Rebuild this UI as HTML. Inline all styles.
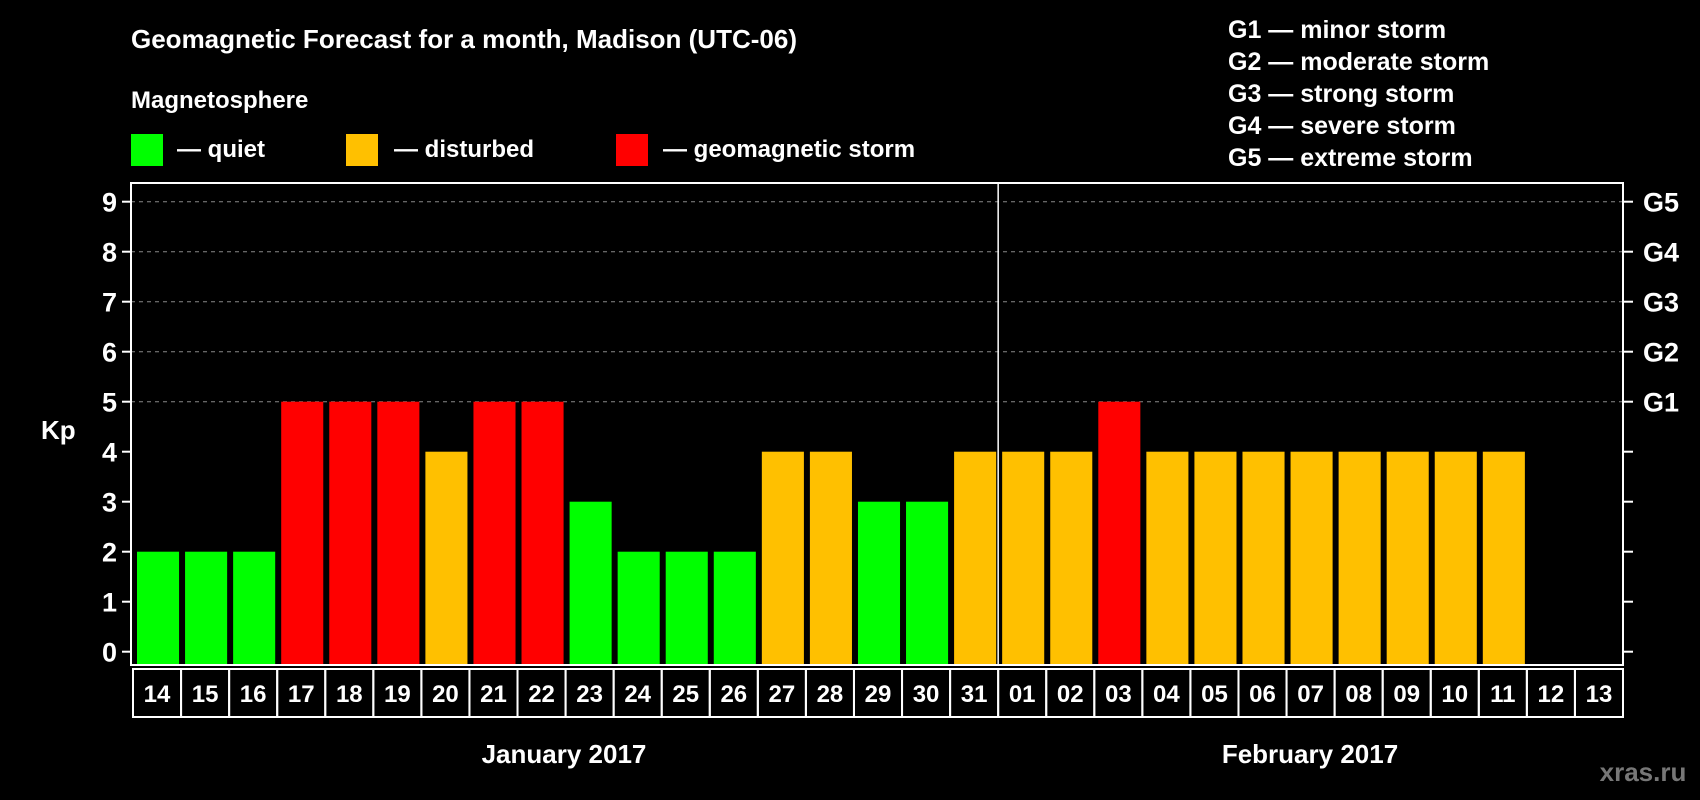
<!DOCTYPE html>
<html><head><meta charset="utf-8"><style>
html,body{margin:0;padding:0;background:#000;}
svg{display:block;font-family:"Liberation Sans",Arial,sans-serif;font-weight:bold;}
</style></head><body>
<svg id="chart" width="1700" height="800" viewBox="0 0 1700 800">
<rect x="0" y="0" width="1700" height="800" fill="#000"/>
<text x="131" y="48" fill="#fff" font-size="26">Geomagnetic Forecast for a month, Madison (UTC-06)</text>
<text x="131" y="108" fill="#fff" font-size="24">Magnetosphere</text>
<g>
<rect x="131" y="134" width="32" height="32" fill="#00ff00"/>
<text x="177" y="157" fill="#fff" font-size="24">— quiet</text></g>
<g>
<rect x="346" y="134" width="32" height="32" fill="#ffc000"/>
<text x="394" y="157" fill="#fff" font-size="24">— disturbed</text></g>
<g>
<rect x="616" y="134" width="32" height="32" fill="#ff0000"/>
<text x="663" y="157" fill="#fff" font-size="24">— geomagnetic storm</text></g>
<g font-size="25" fill="#fff">
<text x="1228" y="38">G1 — minor storm</text>
<text x="1228" y="70">G2 — moderate storm</text>
<text x="1228" y="102">G3 — strong storm</text>
<text x="1228" y="134">G4 — severe storm</text>
<text x="1228" y="166">G5 — extreme storm</text>
</g>
<text x="41" y="439" fill="#fff" font-size="26">Kp</text>
<g id="plot"></g>
<text x="564" y="763" fill="#fff" font-size="26" text-anchor="middle">January 2017</text>
<text x="1310" y="763" fill="#fff" font-size="26" text-anchor="middle">February 2017</text>
<text x="1643" y="781" fill="#777" font-size="26" text-anchor="middle">xras.ru</text>
</svg>
<script>
const days = ["14","15","16","17","18","19","20","21","22","23","24","25","26","27","28","29","30","31","01","02","03","04","05","06","07","08","09","10","11","12","13"];
const kpValues = [2,2,2,5,5,5,4,5,5,3,2,2,2,4,4,3,3,4,4,4,5,4,4,4,4,4,4,4,4,null,null];
const yTicks = [0,1,2,3,4,5,6,7,8,9];
const gLabels = ["G1","G2","G3","G4","G5"];
const gLevels = [5,6,7,8,9];
const monthBreakIndex = 18;

const NS="http://www.w3.org/2000/svg";
const plot=document.getElementById('plot');
const L=131,R=1623,T=183,B=665,cellL=133,cellW=(R-cellL)/days.length;
function y(v){return 651.7-50*v;}
function x(i){return cellL+i*cellW;}
function mk(tag,attrs,parent){const e=document.createElementNS(NS,tag);for(const k in attrs)e.setAttribute(k,attrs[k]);(parent||plot).appendChild(e);return e;}
function color(v){return v>=5?'#ff0000':(v>=4?'#ffc000':'#00ff00');}

yTicks.forEach(v=>{
  if(v>=5){const g=mk('line',{x1:L,x2:R,y1:y(v),y2:y(v),stroke:'#888','stroke-width':1,'stroke-dasharray':'4,4'});
  
  }
  const t=mk('line',{x1:L-9,x2:L,y1:y(v),y2:y(v),stroke:'#fff','stroke-width':2});
  
  
  const tr=mk('line',{x1:R,x2:R+10,y1:y(v),y2:y(v),stroke:'#fff','stroke-width':2});
  
  
  const lb=mk('text',{x:L-14,y:y(v)+10,fill:'#fff','font-size':27,'text-anchor':'end'});
  lb.textContent=v;
  
  
});
gLabels.forEach((g,i)=>{
  const t=mk('text',{x:R+20,y:y(gLevels[i])+10,fill:'#fff','font-size':27});
  t.textContent=g;
  
  
});
kpValues.forEach((v,i)=>{
  if(v===null)return;
  const b=mk('rect',{x:x(i)+4,y:y(v),width:cellW-6,height:B-y(v),fill:color(v)});
  
  
});
const frame=mk('rect',{x:L,y:T,width:R-L,height:B-T,fill:'none',stroke:'#fff','stroke-width':2});


const sep=mk('line',{x1:x(monthBreakIndex),x2:x(monthBreakIndex),y1:T,y2:B,stroke:'#fff','stroke-width':1.5});


days.forEach((d,i)=>{
  const c=mk('rect',{x:x(i),y:669,width:cellW,height:48,fill:'none',stroke:'#fff','stroke-width':2});
  
  
  const t=mk('text',{x:x(i)+cellW/2,y:702,fill:'#fff','font-size':24,'text-anchor':'middle'});
  t.textContent=d;
  
  
});
</script>
</body></html>
